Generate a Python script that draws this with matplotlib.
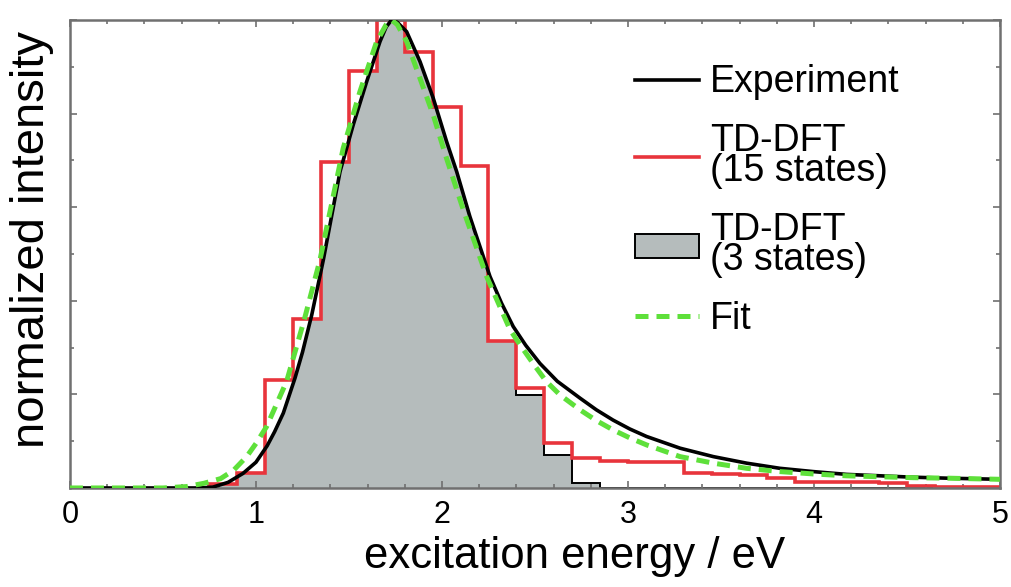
import matplotlib
matplotlib.use("Agg")
import matplotlib.pyplot as plt
from matplotlib.lines import Line2D
from matplotlib.patches import Patch, Polygon
from matplotlib.ticker import MultipleLocator

plt.rcParams['font.family'] = ['Liberation Sans', 'DejaVu Sans']

# histogram bin edges (eV)
bin_edges = [0.75, 0.90, 1.05, 1.20, 1.35, 1.50, 1.65, 1.80, 1.95, 2.10,
             2.25, 2.40, 2.55, 2.70, 2.85, 3.00, 3.15, 3.30, 3.45, 3.60,
             3.75, 3.90, 4.05, 4.20, 4.35, 4.50, 4.65, 4.80, 4.95, 5.10]

# TD-DFT, 15 states
tddft15 = [0.008, 0.031, 0.231, 0.362, 0.697, 0.891, 1.0, 0.932, 0.813, 0.687,
           0.313, 0.213, 0.0955, 0.063, 0.058, 0.056, 0.055, 0.031, 0.030, 0.028,
           0.021, 0.0135, 0.013, 0.012, 0.011, 0.004, 0.003, 0.003, 0.003]

# TD-DFT, 3 states
tddft3 = [0.008, 0.031, 0.231, 0.362, 0.697, 0.891, 1.0, 0.932, 0.813, 0.687,
          0.313, 0.199, 0.0705, 0.010, 0.0, 0.0, 0.0, 0.0, 0.0, 0.0,
          0.0, 0.0, 0.0, 0.0, 0.0, 0.0, 0.0, 0.0, 0.0]

# experiment
exp_x = [0.0, 0.5, 0.70, 0.77, 0.85, 0.93, 1.00, 1.06, 1.10, 1.147, 1.21, 1.25,
         1.30, 1.362, 1.452, 1.523, 1.595, 1.667, 1.70, 1.729, 1.76, 1.81, 1.882,
         1.953, 2.025, 2.079, 2.15, 2.258, 2.32, 2.383, 2.45, 2.527, 2.62, 2.742,
         2.83, 2.92, 3.01, 3.10, 3.28, 3.459, 3.638, 3.817, 3.996, 4.176, 4.355,
         4.534, 4.71, 5.0]
exp_y = [0.0, 0.0, 0.0, 0.002, 0.012, 0.031, 0.055, 0.09, 0.12, 0.160, 0.235, 0.29,
         0.37, 0.487, 0.676, 0.776, 0.868, 0.954, 0.985, 1.0, 0.995, 0.975, 0.911,
         0.833, 0.740, 0.676, 0.58, 0.452, 0.395, 0.345, 0.305, 0.266, 0.228, 0.192,
         0.167, 0.145, 0.126, 0.110, 0.085, 0.067, 0.053, 0.042, 0.035, 0.029, 0.026,
         0.023, 0.021, 0.0185]

# fit
fit_x = [0.0, 0.5, 0.627, 0.72, 0.81, 0.88, 0.95, 1.00, 1.057, 1.165, 1.26, 1.344,
         1.469, 1.559, 1.649, 1.70, 1.729, 1.76, 1.81, 1.882, 1.953, 2.02, 2.115,
         2.24, 2.366, 2.43, 2.49, 2.56, 2.634, 2.742, 2.83, 2.92, 3.01, 3.10, 3.28,
         3.459, 3.638, 3.817, 3.996, 4.176, 4.355, 4.534, 4.71, 5.0]
fit_y = [0.0, 0.0, 0.003, 0.010, 0.02, 0.038, 0.067, 0.095, 0.131, 0.228, 0.36,
         0.487, 0.726, 0.847, 0.954, 0.99, 1.0, 0.99, 0.954, 0.875, 0.797, 0.71,
         0.594, 0.452, 0.338, 0.30, 0.266, 0.228, 0.199, 0.167, 0.144, 0.124, 0.107,
         0.092, 0.067, 0.053, 0.042, 0.035, 0.030, 0.026, 0.024, 0.022, 0.021, 0.0185]

red = '#e8343c'
green = '#5ee03a'
grey = '#b5bcbc'

fig = plt.figure(figsize=(10.11, 5.87), dpi=100)
ax = fig.add_axes([0.0692, 0.1687, 0.9199, 0.7973])

# grey histogram only shows underneath the experimental curve
clip = Polygon(list(zip(exp_x + [5.0, 0.0], exp_y + [-0.05, -0.05])),
               closed=True, transform=ax.transData)
g = ax.stairs(tddft3, bin_edges, fill=True, facecolor=grey, edgecolor='none', zorder=1)
g.set_clip_path(clip)
go = ax.stairs(tddft3, bin_edges, color='black', linewidth=1.4, zorder=1.5)
go.set_clip_path(clip)

ax.stairs(tddft15, bin_edges, color=red, linewidth=2.6, zorder=2)
ax.plot(exp_x, exp_y, color='black', linewidth=2.6, zorder=3)
ax.plot(fit_x, fit_y, color=green, linewidth=3.6, dashes=(2.6, 1.6), zorder=4)

ax.set_xlim(0, 5)
ax.set_ylim(0, 1)
ax.xaxis.set_major_locator(MultipleLocator(1))
ax.xaxis.set_minor_locator(MultipleLocator(0.2))
ax.yaxis.set_major_locator(MultipleLocator(0.2))
ax.yaxis.set_minor_locator(MultipleLocator(0.1))
ax.tick_params(which='both', direction='in', top=True, right=True,
               color='#707070', width=1.2)
ax.tick_params(which='major', length=5, labelsize=22, pad=9)
ax.tick_params(which='minor', length=3)
ax.tick_params(axis='y', labelleft=False)
for s in ax.spines.values():
    s.set_color('#707070')
    s.set_linewidth(1.8)

ax.set_xlabel('excitation energy / eV', fontsize=31.5)
ax.xaxis.set_label_coords(0.543, -0.102)
ax.set_ylabel('normalized intensity', fontsize=34)
ax.yaxis.set_label_coords(-0.017, 0.53)

handles = [Line2D([], [], color='black', linewidth=2.6),
           Line2D([], [], color=red, linewidth=2.6),
           Patch(facecolor=grey, edgecolor='black', linewidth=1.4),
           Line2D([], [], color=green, linewidth=3.6, dashes=(2.6, 1.6))]
labels = ['Experiment', 'TD-DFT\n(15 states)', 'TD-DFT\n(3 states)', 'Fit']
leg = ax.legend(handles, labels, loc='upper left', bbox_to_anchor=(0.6075, 0.905),
                frameon=False, fontsize=27, handlelength=1.7, handleheight=0.62,
                handletextpad=0.3, labelspacing=0.6, borderpad=0, borderaxespad=0)
for t in leg.get_texts():
    t.set_linespacing(0.8)

plt.savefig('out.png', dpi=100)
